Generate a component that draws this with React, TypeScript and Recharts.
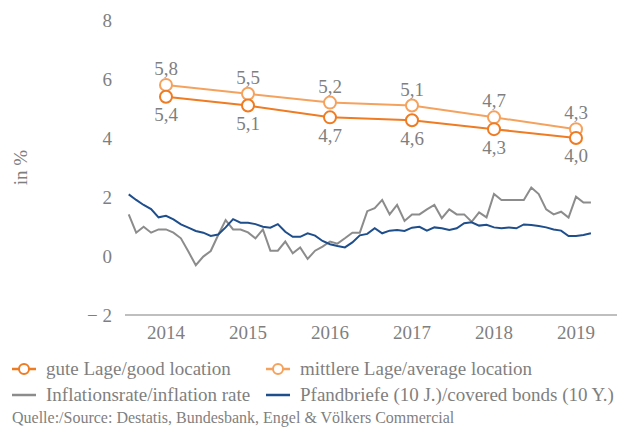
import React from 'react';
import { LineChart, Line, XAxis, YAxis, LabelList } from 'recharts';

const years = ['2014', '2015', '2016', '2017', '2018', '2019'];
const goodLocation = [5.4, 5.1, 4.7, 4.6, 4.3, 4.0];
const averageLocation = [5.8, 5.5, 5.2, 5.1, 4.7, 4.3];

const inflationRate = [
  1.41, 0.79, 0.99, 0.79, 0.9, 0.9, 0.79, 0.6, 0.15, -0.31, -0.02, 0.17, 0.71, 1.22, 0.9, 0.9,
  0.8, 0.6, 0.9, 0.18, 0.18, 0.49, 0.09, 0.29, -0.1, 0.18, 0.32, 0.49, 0.42, 0.6, 0.79, 0.79,
  1.52, 1.62, 1.9, 1.41, 1.73, 1.19, 1.41, 1.41, 1.58, 1.73, 1.28, 1.58, 1.41, 1.41, 1.16, 1.48,
  1.31, 2.1, 1.9, 1.9, 1.9, 1.9, 2.32, 2.1, 1.58, 1.41, 1.5, 1.3, 2.01, 1.81, 1.81,
];
const coveredBonds = [
  2.09, 1.9, 1.73, 1.59, 1.31, 1.36, 1.24, 1.07, 0.96, 0.85, 0.79, 0.68, 0.73, 0.97, 1.25, 1.13,
  1.13, 1.08, 0.99, 0.96, 1.08, 0.82, 0.65, 0.65, 0.77, 0.69, 0.51, 0.4, 0.34, 0.29, 0.46, 0.7,
  0.75, 0.94, 0.77, 0.86, 0.88, 0.85, 0.96, 0.99, 0.86, 0.97, 0.94, 0.88, 0.94, 1.11, 1.14, 1.03,
  1.06, 0.97, 0.94, 0.97, 0.94, 1.07, 1.05, 1.02, 0.97, 0.9, 0.86, 0.68, 0.68, 0.71, 0.77,
];
const yTicks = [-2, 0, 2, 4, 6, 8];
const monthSlots = 66;

const seriesNames = {
  good: 'gute Lage/good location',
  average: 'mittlere Lage/average location',
  inflation: 'Inflationsrate/inflation rate',
  bonds: 'Pfandbriefe (10 J.)/covered bonds (10 Y.)',
};
const sourceText = 'Quelle:/Source: Destatis, Bundesbank, Engel & Völkers Commercial';

const COLORS = {
  good: '#EF7B22',
  average: '#F5A25E',
  inflation: '#8C8C8C',
  bonds: '#1F4E8C',
  text: '#7F7F7F',
  axis: '#BFBFBF',
};

const yearData = years.map((y, i) => ({
  x: i + 0.5,
  year: y,
  good: goodLocation[i],
  average: averageLocation[i],
}));
const monthData = inflationRate.map((v, i) => ({
  m: i + 0.5,
  inflation: v,
  bonds: coveredBonds[i],
}));

const FONT = "'Liberation Serif', 'Times New Roman', Times, serif";
const fmt = (v: number) => v.toFixed(1).replace('.', ',');
const yFmt = (v: number) => (v < 0 ? '\u2212 ' + Math.abs(v) : String(v));

const LegendMarker = ({ color, circle }: { color: string; circle: boolean }) => (
  <svg width={28} height={14} style={{ display: 'block' }}>
    <line x1={2} y1={7} x2={26} y2={7} stroke={color} strokeWidth={2.5} />
    {circle && <circle cx={14} cy={7} r={5} fill="#fff" stroke={color} strokeWidth={2} />}
  </svg>
);

const LegendItem = ({ left, top, color, circle, label }: any) => (
  <div style={{ position: 'absolute', left, top, display: 'flex', alignItems: 'center', height: 22 }}>
    <LegendMarker color={color} circle={circle} />
    <span style={{ marginLeft: 8, fontSize: 19, color: COLORS.text, fontFamily: FONT, whiteSpace: 'nowrap' }}>
      {label}
    </span>
  </div>
);

export default function App() {
  return (
    <div style={{ position: 'absolute', left: 0, top: 0, width: 618, height: 428, background: '#fff', overflow: 'hidden', fontFamily: FONT }}>
      <LineChart width={618} height={428} margin={{ top: 20, right: 1, bottom: 83, left: 65 }}>
        <XAxis xAxisId="mo" dataKey="m" type="number" domain={[0, monthSlots]} hide orientation="top" height={0} allowDataOverflow />
        <XAxis
          xAxisId="yr"
          dataKey="x"
          type="number"
          domain={[0, years.length]}
          ticks={yearData.map((d) => d.x)}
          tickFormatter={(v: number) => years[Math.floor(v)]}
          tickLine={false}
          axisLine={{ stroke: COLORS.axis, strokeWidth: 2 }}
          tick={{ fill: COLORS.text, fontSize: 19, fontFamily: FONT }}
          tickMargin={5}
          height={30}
          allowDataOverflow
        />
        <YAxis
          domain={[-2, 8]}
          ticks={yTicks}
          tickFormatter={yFmt}
          axisLine={false}
          tickLine={false}
          tickMargin={7}
          width={60}
          tick={{ fill: COLORS.text, fontSize: 19, fontFamily: FONT }}
          label={{
            value: 'in %',
            angle: -90,
            position: 'insideLeft',
            offset: -45,
            style: { fill: COLORS.text, fontSize: 19, fontFamily: FONT, textAnchor: 'middle' },
          }}
        />
        <Line
          xAxisId="mo"
          data={monthData}
          dataKey="inflation"
          stroke={COLORS.inflation}
          strokeWidth={2}
          dot={false}
          isAnimationActive={false}
        />
        <Line
          xAxisId="mo"
          data={monthData}
          dataKey="bonds"
          stroke={COLORS.bonds}
          strokeWidth={2}
          dot={false}
          isAnimationActive={false}
        />
        <Line
          xAxisId="yr"
          data={yearData}
          dataKey="average"
          stroke={COLORS.average}
          strokeWidth={2}
          dot={{ r: 6, fill: '#fff', stroke: COLORS.average, strokeWidth: 2 }}
          isAnimationActive={false}
        >
          <LabelList
            dataKey="average"
            position="top"
            offset={10}
            formatter={(v: any) => fmt(Number(v))}
            style={{ fill: COLORS.text, fontSize: 19, fontFamily: FONT }}
          />
        </Line>
        <Line
          xAxisId="yr"
          data={yearData}
          dataKey="good"
          stroke={COLORS.good}
          strokeWidth={2}
          dot={{ r: 6, fill: '#fff', stroke: COLORS.good, strokeWidth: 2 }}
          isAnimationActive={false}
        >
          <LabelList
            dataKey="good"
            position="bottom"
            offset={11}
            formatter={(v: any) => fmt(Number(v))}
            style={{ fill: COLORS.text, fontSize: 19, fontFamily: FONT }}
          />
        </Line>
      </LineChart>
      <LegendItem left={10} top={358} color={COLORS.good} circle label={seriesNames.good} />
      <LegendItem left={264} top={358} color={COLORS.average} circle label={seriesNames.average} />
      <LegendItem left={10} top={384} color={COLORS.inflation} circle={false} label={seriesNames.inflation} />
      <LegendItem left={264} top={384} color={COLORS.bonds} circle={false} label={seriesNames.bonds} />
      <div
        style={{
          position: 'absolute',
          left: 12,
          top: 409,
          fontSize: 16,
          color: COLORS.text,
          fontFamily: FONT,
          whiteSpace: 'nowrap',
        }}
      >
        {sourceText}
      </div>
    </div>
  );
}
